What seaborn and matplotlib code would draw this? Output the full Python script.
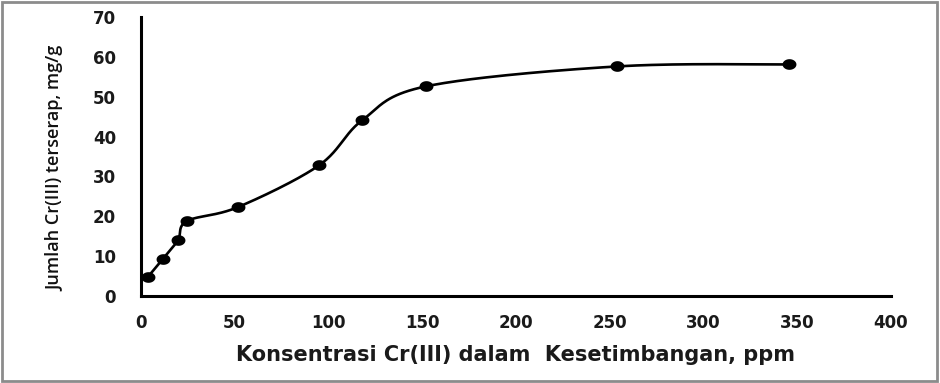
import numpy as np
import pandas as pd
import matplotlib
matplotlib.use("Agg")
import matplotlib.pyplot as plt
import seaborn as sns
from matplotlib.patches import Rectangle
from matplotlib.path import Path

# Data
konsentrasi = [3.7, 11.7, 19.7, 24.5, 51.7, 95.0, 118.0, 152.0, 254.0, 345.5]
terserap = [4.8, 9.3, 14.0, 18.8, 22.3, 32.8, 44.1, 52.6, 57.6, 58.1]
x_ticks = [0, 50, 100, 150, 200, 250, 300, 350, 400]
y_ticks = [0, 10, 20, 30, 40, 50, 60, 70]
x_label = "Konsentrasi Cr(III) dalam  Kesetimbangan, ppm"
y_label = "Jumlah Cr(III) terserap, mg/g"

df = pd.DataFrame({"x": konsentrasi, "y": terserap})

# Excel-style smoothed line (Catmull-Rom / Bezier) computed from data
def smooth_curve(xs, ys, n=40):
    P = np.column_stack([xs, ys]).astype(float)
    out = []
    m = len(P)
    for i in range(m - 1):
        p0 = P[i - 1] if i > 0 else P[i]
        p1 = P[i]
        p2 = P[i + 1]
        p3 = P[i + 2] if i + 2 < m else P[i + 1]
        c1 = p1 + (p2 - p0) / 6.0
        c2 = p2 - (p3 - p1) / 6.0
        t = np.linspace(0, 1, n)[:, None]
        seg = ((1 - t) ** 3) * p1 + 3 * ((1 - t) ** 2) * t * c1 + 3 * (1 - t) * t ** 2 * c2 + t ** 3 * p2
        out.append(seg if i == 0 else seg[1:])
    return np.vstack(out)

curve = smooth_curve(konsentrasi, terserap)
curve_df = pd.DataFrame({"x": curve[:, 0], "y": curve[:, 1]})

# slightly wide elliptical marker (like the stretched reference)
theta = np.linspace(0, 2 * np.pi, 40)
ellipse_marker = Path(np.column_stack([1.3 * np.cos(theta), np.sin(theta)]))

sns.set_theme(style="white")
plt.rcParams["font.family"] = ["DejaVu Sans"]

fig = plt.figure(figsize=(9.4, 3.83), dpi=100)
ax = fig.add_axes([141 / 940, 1 - 296 / 383, (891 - 141) / 940, (296 - 17) / 383])

sns.lineplot(data=curve_df, x="x", y="y", sort=False, color="black", linewidth=1.9, ax=ax)
sns.scatterplot(data=df, x="x", y="y", color="black", s=100, marker=ellipse_marker,
                edgecolor="black", linewidth=0, ax=ax, zorder=5)

ax.set_xlim(0, 400)
ax.set_ylim(0, 70)
ax.set_xticks(x_ticks)
ax.set_yticks(y_ticks)
ax.set_xticklabels([str(v) for v in x_ticks], fontsize=12, fontweight="bold", color="#1a1a1a")
ax.set_yticklabels([str(v) for v in y_ticks], fontsize=12, fontweight="bold", color="#1a1a1a")

for side in ["top", "right"]:
    ax.spines[side].set_visible(False)
for side in ["left", "bottom"]:
    ax.spines[side].set_color("black")
    ax.spines[side].set_linewidth(2.2)

ax.tick_params(axis="both", which="major", direction="out", length=4, width=2, color="black")
ax.tick_params(axis="y", pad=14)
ax.tick_params(axis="x", pad=9)

ax.set_xlabel(x_label, fontsize=15, fontweight="bold", color="#1a1a1a", labelpad=9)
ax.set_ylabel("")
fig.text(55 / 940, 1 - 168 / 383, y_label, rotation=90, ha="center", va="center",
         fontsize=13, fontweight="semibold", color="#111111", family=["Open Sans", "DejaVu Sans"])

fig.patches.append(Rectangle((0.002, 0.004), 0.995, 0.992, transform=fig.transFigure,
                             fill=False, edgecolor="#8c8c8c", linewidth=2))

fig.savefig("out.png", dpi=100)
